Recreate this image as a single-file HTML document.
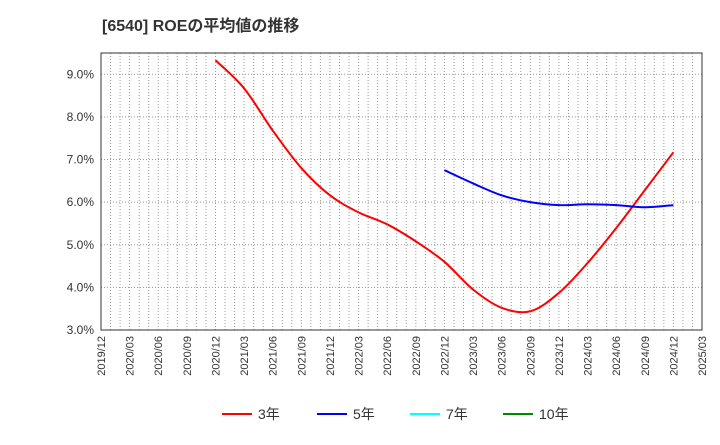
<!DOCTYPE html>
<html><head><meta charset="utf-8"><style>
body{margin:0;background:#fff;}
svg text{font-family:"Liberation Sans","Noto Sans CJK JP",sans-serif;}
</style></head><body>
<svg id="chart" width="720" height="440" xmlns="http://www.w3.org/2000/svg">
<text x="102" y="31" font-size="16" font-weight="bold" fill="#333">[6540]  ROEの平均値の推移</text>
<g id="grid"></g>
<g id="axes"></g>
<g id="series"></g>
<g id="legend"></g>
</svg>
<script>
const yTicks=[3,4,5,6,7,8,9];
const xLabels=["2019/12","2020/03","2020/06","2020/09","2020/12","2021/03","2021/06","2021/09","2021/12","2022/03","2022/06","2022/09","2022/12","2023/03","2023/06","2023/09","2023/12","2024/03","2024/06","2024/09","2024/12","2025/03"];
const s3Start=4;
const s3=[9.33,8.67,7.68,6.8,6.16,5.76,5.48,5.08,4.6,3.95,3.52,3.44,3.87,4.57,5.39,6.28,7.17];
const s5Start=12;
const s5=[6.75,6.44,6.16,6.0,5.93,5.95,5.93,5.88,5.93];
const L=101,R=702,T=53,B=330,ymin=3,ymax=9.5;
const NS="http://www.w3.org/2000/svg";
const xq=i=>L+(R-L)*i/(xLabels.length-1);
const y=v=>B-(v-ymin)/(ymax-ymin)*(B-T);
function mk(t,a,p){const e=document.createElementNS(NS,t);for(const k in a)e.setAttribute(k,a[k]);p.appendChild(e);return e;}
const grid=document.getElementById('grid'),axes=document.getElementById('axes'),ser=document.getElementById('series'),leg=document.getElementById('legend');
for(let m=1;m<(xLabels.length-1)*3;m++){const x=L+(R-L)*m/((xLabels.length-1)*3);
const l=mk('line',{x1:x,x2:x,y1:T,y2:B,stroke:'#999','stroke-dasharray':'1,2','stroke-width':1},grid);
}
yTicks.forEach(v=>{const l=mk('line',{x1:L,x2:R,y1:y(v),y2:y(v),stroke:'#999','stroke-dasharray':'1,2'},grid);

const t=mk('text',{x:L-7,y:y(v)+4,'text-anchor':'end','font-size':12,fill:'#333'},axes);t.textContent=v.toFixed(1)+'%';
});
xLabels.forEach((s,i)=>{const x=xq(i);const t=mk('text',{x:x+4,y:B+6,'text-anchor':'end','font-size':11,fill:'#333',transform:`rotate(-90 ${x+4} ${B+6})`},axes);t.textContent=s;
});
const fr=mk('rect',{x:L,y:T,width:R-L,height:B-T,fill:'none',stroke:'#333'},axes);

function path(vals,start){const p=vals.map((v,i)=>[xq(start+i),y(v)]);let d=`M${p[0][0]},${p[0][1]}`;
for(let i=0;i<p.length-1;i++){const p0=p[i-1]||p[i],p1=p[i],p2=p[i+1],p3=p[i+2]||p2;
d+=` C${p1[0]+(p2[0]-p0[0])/6},${p1[1]+(p2[1]-p0[1])/6} ${p2[0]-(p3[0]-p1[0])/6},${p2[1]-(p3[1]-p1[1])/6} ${p2[0]},${p2[1]}`;}return d;}
const a=mk('path',{d:path(s3,s3Start),fill:'none',stroke:'#f00','stroke-width':2},ser);

const b=mk('path',{d:path(s5,s5Start),fill:'none',stroke:'#00f','stroke-width':2},ser);

const legItems=[["3年","#f00",222],["5年","#00f",317],["7年","#0ff",410],["10年","#080",503]];
legItems.forEach(([n,c,x])=>{const g=mk('g',{},leg);
mk('line',{x1:x,x2:x+30,y1:414,y2:414,stroke:c,'stroke-width':2},g);
const t=mk('text',{x:x+36,y:419,'font-size':14,fill:'#333'},g);t.textContent=n;});
</script>
</body></html>
